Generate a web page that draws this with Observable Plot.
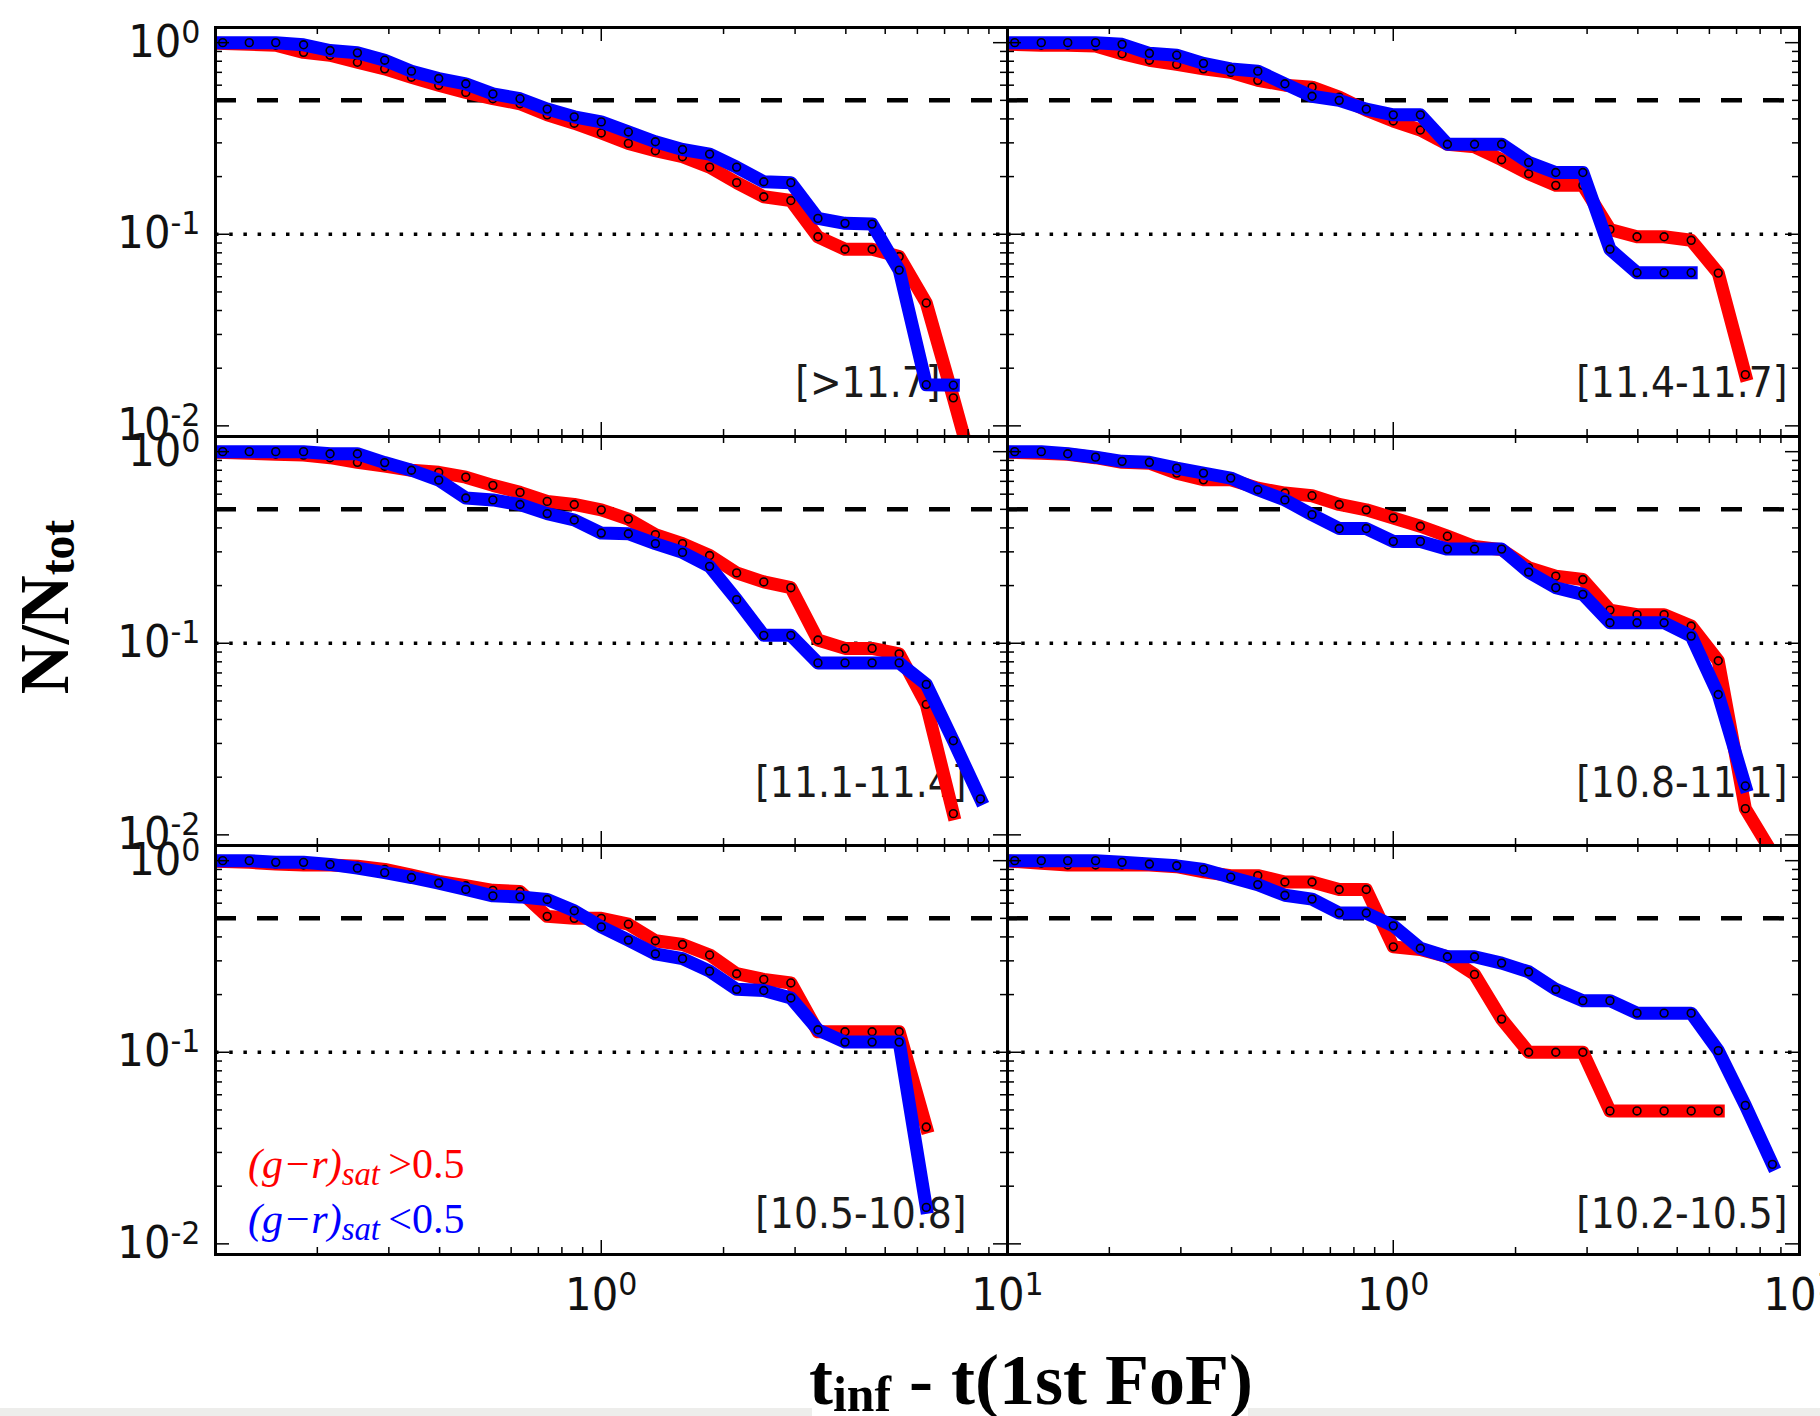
<!DOCTYPE html>
<html>
<head>
<meta charset="utf-8">
<script src="https://cdn.jsdelivr.net/npm/d3@7"></script>
<script src="https://cdn.jsdelivr.net/npm/@observablehq/plot@0.6"></script>
<style>
  html, body { margin: 0; padding: 0; background: #fff; }
  #chart { position: relative; width: 1820px; height: 1416px; overflow: hidden; background: #fff; }
  #chart svg { position: absolute; left: 0; top: 0; }
  .ttl { position: absolute; font-family: "Liberation Serif", "Times New Roman", serif; font-weight: bold; white-space: nowrap; line-height: 1; color: #000; }
  .ttl sub { font-size: 0.69em; vertical-align: -0.14em; line-height: 0; }
  .leg { position: absolute; font-family: "Liberation Serif", "Times New Roman", serif; font-size: 42px; white-space: nowrap; line-height: 1; }
  .leg sub { font-size: 0.78em; vertical-align: -0.2em; line-height: 0; font-style: italic; }
  .band { position: absolute; background: #ededeb; }
</style>
</head>
<body>
<div id="chart"></div>
<script>
// ---- data: time since infall grid (Gyr) ----
const tGrid = [0.117, 0.136, 0.158, 0.185, 0.215, 0.251, 0.293, 0.341, 0.398, 0.464,
               0.541, 0.631, 0.736, 0.858, 1.0, 1.166, 1.359, 1.585, 1.848, 2.154,
               2.512, 2.929, 3.415, 3.981, 4.642, 5.412, 6.310, 7.356, 8.577];

const panelLabels = ["[>11.7]", "[11.4-11.7]", "[11.1-11.4]", "[10.8-11.1]", "[10.5-10.8]", "[10.2-10.5]"];

// red: (g-r)_sat > 0.5 ; blue: (g-r)_sat < 0.5
const redGt117 = [0.99, 0.98, 0.97, 0.89, 0.86, 0.79, 0.73, 0.66, 0.60, 0.55, 0.51, 0.48, 0.42, 0.38, 0.338, 0.298, 0.273, 0.254, 0.224, 0.186, 0.157, 0.15, 0.097, 0.0835, 0.0835, 0.0765, 0.0438, 0.014, 0.0043];
const blueGt117 = [1.0, 1.0, 1.0, 0.975, 0.91, 0.885, 0.81, 0.71, 0.65, 0.61, 0.54, 0.51, 0.45, 0.41, 0.386, 0.342, 0.304, 0.277, 0.262, 0.224, 0.188, 0.186, 0.121, 0.114, 0.113, 0.065, 0.0164, 0.0163, null];

const red114 = [0.98, 0.97, 0.97, 0.96, 0.875, 0.81, 0.77, 0.73, 0.70, 0.636, 0.60, 0.586, 0.52, 0.444, 0.39, 0.35, 0.295, 0.286, 0.245, 0.207, 0.18, 0.18, 0.106, 0.097, 0.097, 0.093, 0.0627, 0.0185, null];
const blue114 = [1.0, 1.0, 1.0, 1.0, 0.98, 0.88, 0.86, 0.78, 0.73, 0.71, 0.61, 0.525, 0.50, 0.45, 0.42, 0.42, 0.295, 0.295, 0.295, 0.237, 0.21, 0.21, 0.0835, 0.063, 0.063, 0.063, null, null, null];

const red111 = [0.99, 0.98, 0.97, 0.96, 0.93, 0.88, 0.84, 0.80, 0.78, 0.736, 0.667, 0.613, 0.55, 0.53, 0.497, 0.445, 0.369, 0.331, 0.287, 0.233, 0.209, 0.195, 0.104, 0.094, 0.094, 0.088, 0.048, 0.0129, null];
const blue111 = [1.0, 1.0, 1.0, 1.0, 0.975, 0.975, 0.877, 0.80, 0.71, 0.573, 0.56, 0.53, 0.475, 0.44, 0.376, 0.373, 0.331, 0.298, 0.252, 0.169, 0.110, 0.110, 0.079, 0.079, 0.079, 0.079, 0.061, 0.031, 0.0154];

const red108 = [0.99, 0.98, 0.97, 0.93, 0.88, 0.87, 0.773, 0.713, 0.713, 0.645, 0.608, 0.589, 0.53, 0.497, 0.451, 0.408, 0.362, 0.32, 0.308, 0.248, 0.224, 0.215, 0.149, 0.141, 0.141, 0.123, 0.081, 0.0137, 0.008];
const blue108 = [1.0, 1.0, 0.975, 0.936, 0.89, 0.88, 0.82, 0.773, 0.728, 0.633, 0.56, 0.469, 0.397, 0.397, 0.34, 0.34, 0.31, 0.31, 0.31, 0.235, 0.195, 0.18, 0.128, 0.128, 0.128, 0.109, 0.054, 0.018, null];

const red105 = [0.99, 0.98, 0.96, 0.95, 0.95, 0.935, 0.9, 0.84, 0.78, 0.74, 0.70, 0.69, 0.512, 0.5, 0.5, 0.466, 0.382, 0.365, 0.322, 0.257, 0.24, 0.23, 0.128, 0.128, 0.128, 0.128, 0.0407, null, null];
const blue105 = [1.0, 1.0, 0.98, 0.98, 0.956, 0.914, 0.866, 0.817, 0.764, 0.708, 0.655, 0.647, 0.627, 0.548, 0.451, 0.385, 0.326, 0.308, 0.265, 0.213, 0.21, 0.192, 0.131, 0.113, 0.113, 0.113, 0.0155, null, null];

const red102 = [0.99, 0.97, 0.95, 0.95, 0.95, 0.95, 0.93, 0.874, 0.835, 0.835, 0.774, 0.774, 0.707, 0.707, 0.355, 0.344, 0.315, 0.255, 0.149, 0.1, 0.1, 0.1, 0.0494, 0.0494, 0.0494, 0.0494, 0.0494, null, null];
const blue102 = [1.0, 1.0, 1.0, 1.0, 0.98, 0.96, 0.94, 0.90, 0.82, 0.75, 0.66, 0.63, 0.533, 0.533, 0.457, 0.349, 0.315, 0.315, 0.292, 0.263, 0.213, 0.186, 0.186, 0.16, 0.16, 0.16, 0.102, 0.0528, 0.026];

// reference levels
const refHalf = 0.5;
const refTenth = 0.1;

// ticks
const xMajorTicks = [1, 10];
const xMinorTicks = [0.2, 0.3, 0.4, 0.5, 0.6, 0.7, 0.8, 0.9, 2, 3, 4, 5, 6, 7, 8, 9];
const yMajorTicks = [1, 0.1, 0.01];
const yMinorTicks = [0.02, 0.03, 0.04, 0.05, 0.06, 0.07, 0.08, 0.09, 0.2, 0.3, 0.4, 0.5, 0.6, 0.7, 0.8, 0.9];
const xTickLabels = [1, 10];
const yTickLabels = [1, 0.1, 0.01];

// ---- layout ----
const FW = 1820, FH = 1416;
const X0 = 215, Y0 = 27, PW = 792, PH = 409;
const xDomain = [0.1123, 10];
const yDomain = [0.0088, 1.2];

const panels = [
  {label: panelLabels[0], col: 0, row: 0, red: redGt117, blue: blueGt117, gapR: 67, gapB: 53},
  {label: panelLabels[1], col: 1, row: 0, red: red114, blue: blue114, gapR: 12, gapB: 53},
  {label: panelLabels[2], col: 0, row: 1, red: red111, blue: blue111, gapR: 41, gapB: 62},
  {label: panelLabels[3], col: 1, row: 1, red: red108, blue: blue108, gapR: 12, gapB: 62},
  {label: panelLabels[4], col: 0, row: 2, red: red105, blue: blue105, gapR: 41, gapB: 40},
  {label: panelLabels[5], col: 1, row: 2, red: red102, blue: blue102, gapR: 12, gapB: 40}
];

const fmtPow = d => "10^" + Math.round(Math.log10(d));
const rows = arr => tGrid.map((t, i) => ({t, v: arr[i]})).filter(d => d.v != null);

const chart = document.getElementById("chart");
const SVGNS = "http://www.w3.org/2000/svg";

function makePanel(p) {
  const left = X0 + p.col * PW;
  const top = Y0 + p.row * PH;
  const red = rows(p.red), blue = rows(p.blue);
  const tk = {stroke: "#000", strokeWidth: 1.5};
  const marks = [
    Plot.text([p.label], {text: d => d, frameAnchor: "bottom-right", dx: -p.gapR, dy: -p.gapB,
      textAnchor: "end", lineAnchor: "middle", fontSize: 42, fill: "#1a1a1a"}),
    Plot.ruleY([refHalf], {stroke: "#000", strokeWidth: 4.5, strokeDasharray: "21,21"}),
    Plot.ruleY([refTenth], {stroke: "#000", strokeWidth: 3.5, strokeDasharray: "3.5,10.7"}),
    Plot.line(red, {x: "t", y: "v", stroke: "#ff0000", strokeWidth: 13, strokeLinejoin: "round", strokeLinecap: "square", clip: true}),
    Plot.dot(red, {x: "t", y: "v", r: 3.9, stroke: "#000", strokeWidth: 1.6, fill: "none", clip: true}),
    Plot.line(blue, {x: "t", y: "v", stroke: "#0000ff", strokeWidth: 13, strokeLinejoin: "round", strokeLinecap: "square", clip: true}),
    Plot.dot(blue, {x: "t", y: "v", r: 3.9, stroke: "#000", strokeWidth: 1.6, fill: "none", clip: true}),
    // inward ticks on all four sides
    Plot.ruleX(xMajorTicks, {x: d => d, insetBottom: PH - 14, ...tk}),
    Plot.ruleX(xMajorTicks, {x: d => d, insetTop: PH - 14, ...tk}),
    Plot.ruleX(xMinorTicks, {x: d => d, insetBottom: PH - 7, ...tk}),
    Plot.ruleX(xMinorTicks, {x: d => d, insetTop: PH - 7, ...tk}),
    Plot.ruleY(yMajorTicks, {y: d => d, insetRight: PW - 14, ...tk}),
    Plot.ruleY(yMajorTicks, {y: d => d, insetLeft: PW - 14, ...tk}),
    Plot.ruleY(yMinorTicks, {y: d => d, insetRight: PW - 7, ...tk}),
    Plot.ruleY(yMinorTicks, {y: d => d, insetLeft: PW - 7, ...tk}),
    Plot.frame({stroke: "#000", strokeWidth: 3})
  ];
  if (p.col === 0) {
    marks.push(Plot.text(yTickLabels, {y: d => d, text: fmtPow, frameAnchor: "left", dx: -15,
      textAnchor: "end", lineAnchor: "middle", fontSize: 44, fill: "#111"}));
  }
  if (p.row === 2) {
    marks.push(Plot.text(xTickLabels, {x: d => d, text: fmtPow, frameAnchor: "bottom", dy: 41,
      textAnchor: "middle", lineAnchor: "middle", fontSize: 44, fill: "#111"}));
  }
  const svg = Plot.plot({
    width: FW, height: FH,
    marginLeft: left, marginRight: FW - left - PW,
    marginTop: top, marginBottom: FH - top - PH,
    x: {type: "log", domain: xDomain, axis: null},
    y: {type: "log", domain: yDomain, axis: null},
    style: {background: "transparent", fontFamily: "DejaVu Sans, Verdana, sans-serif", overflow: "visible"},
    marks
  });
  // superscript exponents (matplotlib style) and slightly narrow panel labels
  svg.querySelectorAll("text").forEach(t => {
    const s = t.textContent;
    const tr = t.getAttribute("transform") || "";
    if (/^10\^/.test(s)) {
      const [b, e] = s.split("^");
      t.textContent = b;
      const ts = document.createElementNS(SVGNS, "tspan");
      ts.setAttribute("dy", "-0.45em");
      ts.setAttribute("font-size", "0.72em");
      ts.textContent = e;
      t.appendChild(ts);
      t.setAttribute("transform", tr + " scale(0.95,1)");
    } else if (s.startsWith("[")) {
      t.setAttribute("transform", tr + " scale(0.9,1)");
    }
  });
  return svg;
}

panels.forEach(p => chart.appendChild(makePanel(p)));

function addDiv(cls, css, html) {
  const d = document.createElement("div");
  d.className = cls;
  d.style.cssText = css;
  if (html) d.innerHTML = html;
  chart.appendChild(d);
  return d;
}
// light grey strip at the bottom edge, interrupted behind the x title
addDiv("band", "left:0;top:1408px;width:812px;height:8px;");
addDiv("band", "left:1248px;top:1408px;width:572px;height:8px;");

// axis titles
addDiv("ttl", "left:1031px;top:1344px;font-size:72px;transform:translateX(-50%);",
  "t<sub>inf</sub> - t(1st FoF)");
addDiv("ttl", "left:45px;top:607px;font-size:69px;transform:translate(-50%,-50%) rotate(-90deg);",
  "N/N<sub>tot</sub>");

// legend
addDiv("leg", "left:248px;top:1143px;color:#ff0000;",
  "<i>(g\u2212r)</i><sub>sat</sub>&#8201;&gt;0.5");
addDiv("leg", "left:248px;top:1198px;color:#0000ff;",
  "<i>(g\u2212r)</i><sub>sat</sub>&#8201;&lt;0.5");
</script>
</body>
</html>
